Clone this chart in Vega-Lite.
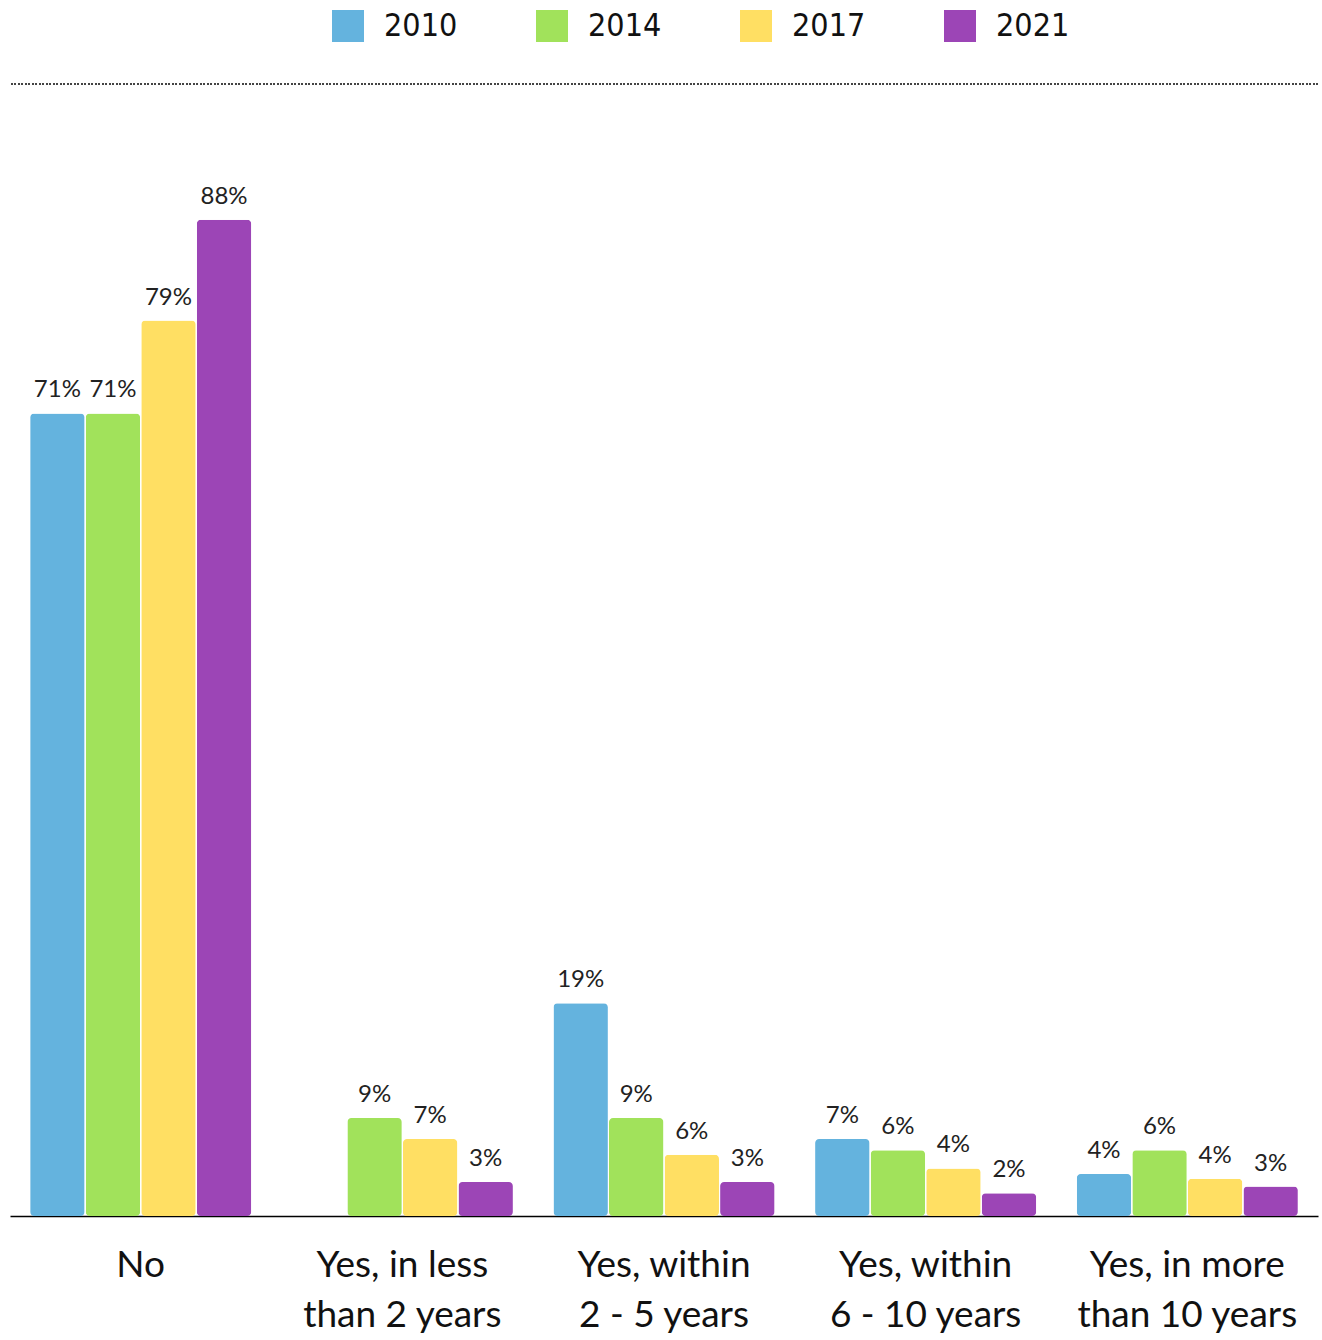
{
  "$schema": "https://vega.github.io/schema/vega-lite/v6.json",
  "autosize": {"type": "none"},
  "padding": {"left": 10, "top": 84, "right": 4, "bottom": 124},
  "width": 1308,
  "height": 1132,
  "background": "white",
  "config": {"view": {"stroke": null}, "font": "Lato"},
  "data": {
    "values": [
      {"answer": "No", "year": "2010", "value": 70.9, "label": "71%"},
      {"answer": "No", "year": "2014", "value": 70.9, "label": "71%"},
      {"answer": "No", "year": "2017", "value": 79.1, "label": "79%"},
      {"answer": "No", "year": "2021", "value": 88.0, "label": "88%"},
      {"answer": "Yes, in less than 2 years", "year": "2014", "value": 8.65, "label": "9%"},
      {"answer": "Yes, in less than 2 years", "year": "2017", "value": 6.8, "label": "7%"},
      {"answer": "Yes, in less than 2 years", "year": "2021", "value": 3.0, "label": "3%"},
      {"answer": "Yes, within 2 - 5 years", "year": "2010", "value": 18.8, "label": "19%"},
      {"answer": "Yes, within 2 - 5 years", "year": "2014", "value": 8.65, "label": "9%"},
      {"answer": "Yes, within 2 - 5 years", "year": "2017", "value": 5.4, "label": "6%"},
      {"answer": "Yes, within 2 - 5 years", "year": "2021", "value": 3.0, "label": "3%"},
      {"answer": "Yes, within 6 - 10 years", "year": "2010", "value": 6.8, "label": "7%"},
      {"answer": "Yes, within 6 - 10 years", "year": "2014", "value": 5.8, "label": "6%"},
      {"answer": "Yes, within 6 - 10 years", "year": "2017", "value": 4.2, "label": "4%"},
      {"answer": "Yes, within 6 - 10 years", "year": "2021", "value": 2.0, "label": "2%"},
      {"answer": "Yes, in more than 10 years", "year": "2010", "value": 3.7, "label": "4%"},
      {"answer": "Yes, in more than 10 years", "year": "2014", "value": 5.8, "label": "6%"},
      {"answer": "Yes, in more than 10 years", "year": "2017", "value": 3.3, "label": "4%"},
      {"answer": "Yes, in more than 10 years", "year": "2021", "value": 2.6, "label": "3%"}
    ]
  },
  "layer": [
    {
      "mark": {"type": "rule", "strokeDash": [1.5, 2], "color": "#444444", "strokeWidth": 1.2},
      "encoding": {"y": {"datum": 100, "type": "quantitative", "scale": {"domain": [0, 100]}, "axis": null}}
    },
    {
      "mark": {"type": "bar", "cornerRadius": 4},
      "encoding": {
        "x": {
          "field": "answer",
          "type": "nominal",
          "sort": null,
          "scale": {"paddingInner": 0.155, "paddingOuter": 0.077},
          "axis": {
            "title": null,
            "domainColor": "#000000",
            "domainWidth": 1.5,
            "ticks": false,
            "labelAngle": 0,
            "labelFontSize": 37,
            "labelColor": "#111111",
            "labelPadding": 31,
            "labelBaseline": "top",
            "labelLineHeight": 50,
            "labelLimit": 400,
            "labelExpr": "datum.value == 'Yes, in less than 2 years' ? ['Yes, in less', 'than 2 years'] : datum.value == 'Yes, within 2 - 5 years' ? ['Yes, within', '2 - 5 years'] : datum.value == 'Yes, within 6 - 10 years' ? ['Yes, within', '6 - 10 years'] : datum.value == 'Yes, in more than 10 years' ? ['Yes, in more', 'than 10 years'] : datum.value"
          }
        },
        "xOffset": {"field": "year", "type": "nominal", "scale": {"paddingInner": 0.02, "paddingOuter": 0}},
        "y": {"field": "value", "type": "quantitative"},
        "color": {
          "field": "year",
          "type": "nominal",
          "scale": {"domain": ["2010", "2014", "2017", "2021"], "range": ["#64B3DE", "#A1E25B", "#FFDF63", "#9C45B6"]},
          "legend": {
            "title": null,
            "orient": "none",
            "direction": "horizontal",
            "legendX": 322,
            "legendY": -74,
            "padding": 0,
            "symbolType": "square",
            "symbolSize": 1024,
            "symbolStrokeWidth": 0,
            "symbolOpacity": 1,
            "labelFontSize": 32,
            "labelFont": "DejaVu Sans Condensed",
            "labelColor": "#111111",
            "labelOffset": 20,
            "columnPadding": 78
          }
        }
      }
    },
    {
      "mark": {"type": "text", "baseline": "bottom", "dy": -11, "fontSize": 24, "color": "#222222"},
      "encoding": {
        "x": {"field": "answer", "type": "nominal", "sort": null},
        "xOffset": {"field": "year", "type": "nominal"},
        "y": {"field": "value", "type": "quantitative"},
        "text": {"field": "label"}
      }
    }
  ]
}
